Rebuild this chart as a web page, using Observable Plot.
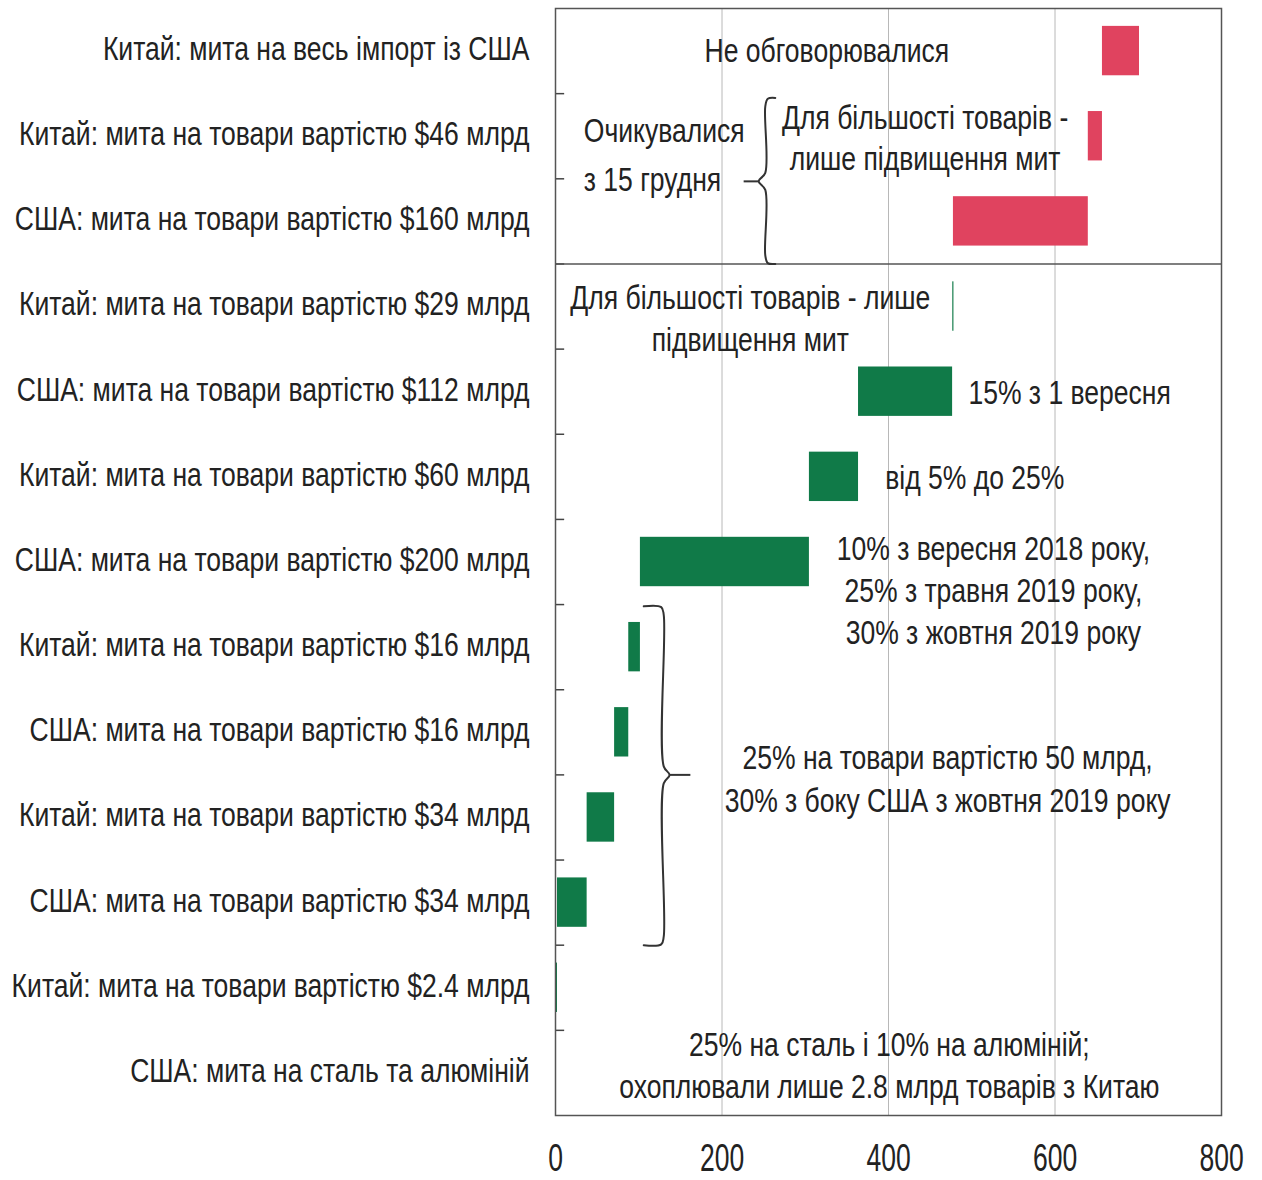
<!DOCTYPE html>
<html><head><meta charset="utf-8">
<script src="https://cdn.jsdelivr.net/npm/d3@7"></script>
<script src="https://cdn.jsdelivr.net/npm/@observablehq/plot@0.6"></script>
<style>body{margin:0;background:#fff}svg{display:block}</style>
</head><body><div id="chart"></div>
<script>
// Categories, top to bottom
const categories = [
  "Китай: мита на весь імпорт із США",
  "Китай: мита на товари вартістю $46 млрд",
  "США: мита на товари вартістю $160 млрд",
  "Китай: мита на товари вартістю $29 млрд",
  "США: мита на товари вартістю $112 млрд",
  "Китай: мита на товари вартістю $60 млрд",
  "США: мита на товари вартістю $200 млрд",
  "Китай: мита на товари вартістю $16 млрд",
  "США: мита на товари вартістю $16 млрд",
  "Китай: мита на товари вартістю $34 млрд",
  "США: мита на товари вартістю $34 млрд",
  "Китай: мита на товари вартістю $2.4 млрд",
  "США: мита на сталь та алюміній"
];
// Floating bars (cumulative $ bn)
const barStart = [657, 640, 478, 477.2, 364, 305, 102, 88, 71, 38, 2.4, 0, 0];
const barEnd   = [701.5, 657, 640, 478.6, 477, 364, 305, 102, 88, 71, 38, 2.4, 0];
const status   = ["planned","planned","planned","in force","in force","in force","in force","in force","in force","in force","in force","in force","in force"];
const xTicks = [0, 200, 400, 600, 800];
const gridTicks = [200, 400, 600];
// Annotations
const noteText = [
  "Не обговорювалися",
  "Очикувалися\nз 15 грудня",
  "Для більшості товарів -\nлише підвищення мит",
  "Для більшості товарів - лише\nпідвищення мит",
  "15% з 1 вересня",
  "від 5% до 25%",
  "10% з вересня 2018 року,\n25% з травня 2019 року,\n30% з жовтня 2019 року",
  "25% на товари вартістю 50 млрд,\n30% з боку США з жовтня 2019 року",
  "25% на сталь і 10% на алюміній;\nохоплювали лише 2.8 млрд товарів з Китаю"
];
const noteX      = [326, 34, 444, 234, 496, 396, 526, 471, 401];
const noteRow    = [0.47, 1.67, 1.5, 3.62, 4.49, 5.49, 6.81, 9.02, 12.39];
const noteAnchor = ["middle","start","middle","middle","start","start","middle","middle","middle"];
const noteLead   = [1.2, 1.45, 1.22, 1.22, 1.2, 1.2, 1.25, 1.28, 1.22];
// Braces: vertical x, hook end x, tip x, tail x, top row, mid row, bottom row
const braceXv   = [252, 130];
const braceXh   = [264, 106];
const braceXtip = [244, 137];
const braceXtail= [226, 162];
const braceY1   = [1.05, 7.02];
const braceYm   = [2.03, 9.0];
const braceY2   = [3.0, 11.0];

const bars = categories.map((c, i) => ({cat: c, row: i, start: barStart[i], end: barEnd[i], status: status[i]}))
  .filter(d => d.end > d.start);
const notes = noteText.map((t, i) => ({text: t, x: noteX[i], row: noteRow[i], anchor: noteAnchor[i], lead: noteLead[i]}));

const bracePts = [];
const braceTails = [];
braceXv.forEach((xv, k) => {
  const xh = braceXh[k], xt = braceXtip[k], y1 = braceY1[k], ym = braceYm[k], y2 = braceY2[k];
  const s = Math.sign(xh - xv);
  const r = 0.1;
  const pts = [
    [xh, y1], [xv + s * 3, y1 + 0.01], [xv, y1 + r],
    [xv, ym - r], [xt, ym],
    [xv, ym + r], [xv, y2 - r], [xv + s * 3, y2 - 0.01], [xh, y2]
  ];
  pts.forEach(([x, y]) => bracePts.push({k, x, y}));
  braceTails.push({x1: xt, x2: braceXtail[k], y: ym});
});

const FONT = "'Liberation Sans', Arial, sans-serif";
const rowCenters = categories.map((c, i) => i + 0.5);
const rowBounds = d3.range(1, categories.length);

const chart = Plot.plot({
  width: 1262,
  height: 1180,
  marginLeft: 555,
  marginRight: 41,
  marginTop: 8,
  marginBottom: 65,
  style: {fontFamily: FONT, color: "#222", background: "#fff"},
  x: {domain: [0, 800], axis: null},
  y: {domain: [13, 0], axis: null},
  color: {domain: ["planned", "in force"], range: ["#e0435f", "#107a48"]},
  marks: [
    Plot.ruleX(gridTicks, {stroke: "#b8b8b8", strokeWidth: 1}),
    Plot.rectX(bars, {x1: "start", x2: "end", y1: d => d.row + 0.21, y2: d => d.row + 0.79, fill: "status"}),
    Plot.ruleY(rowBounds, {x1: 0, x2: 11, stroke: "#444", strokeWidth: 1.5}),
    Plot.ruleY([3], {stroke: "#555", strokeWidth: 1.5}),
    Plot.frame({stroke: "#555", strokeWidth: 1.5}),
    Plot.line(bracePts, {x: "x", y: "y", z: "k", stroke: "#333", strokeWidth: 2, curve: "catmull-rom"}),
    Plot.link(braceTails, {x1: "x1", x2: "x2", y1: "y", y2: "y", stroke: "#333", strokeWidth: 2}),
    ...notes.map(n => Plot.text([n], {x: "x", y: "row", text: "text", textAnchor: n.anchor, lineHeight: n.lead, fontSize: 34, fill: "#222"})),
    Plot.axisY({ticks: rowCenters, tickSize: 0, tickPadding: 26, fontSize: 34, dy: -2, tickFormat: v => categories[Math.round(v - 0.5)]}),
    Plot.axisX({ticks: xTicks, tickSize: 0, tickPadding: 28, fontSize: 39, tickFormat: d3.format("d")})
  ]
});

// horizontally condense all texts (the reference uses a narrow typeface)
chart.querySelectorAll("text").forEach(t => {
  const sx = /^\d+$/.test(t.textContent.trim()) ? 0.68 : 0.78;
  const tr = t.getAttribute("transform") || "";
  t.setAttribute("transform", (tr + ` scale(${sx},1)`).trim());
});
document.getElementById("chart").appendChild(chart);
</script>
</body></html>
